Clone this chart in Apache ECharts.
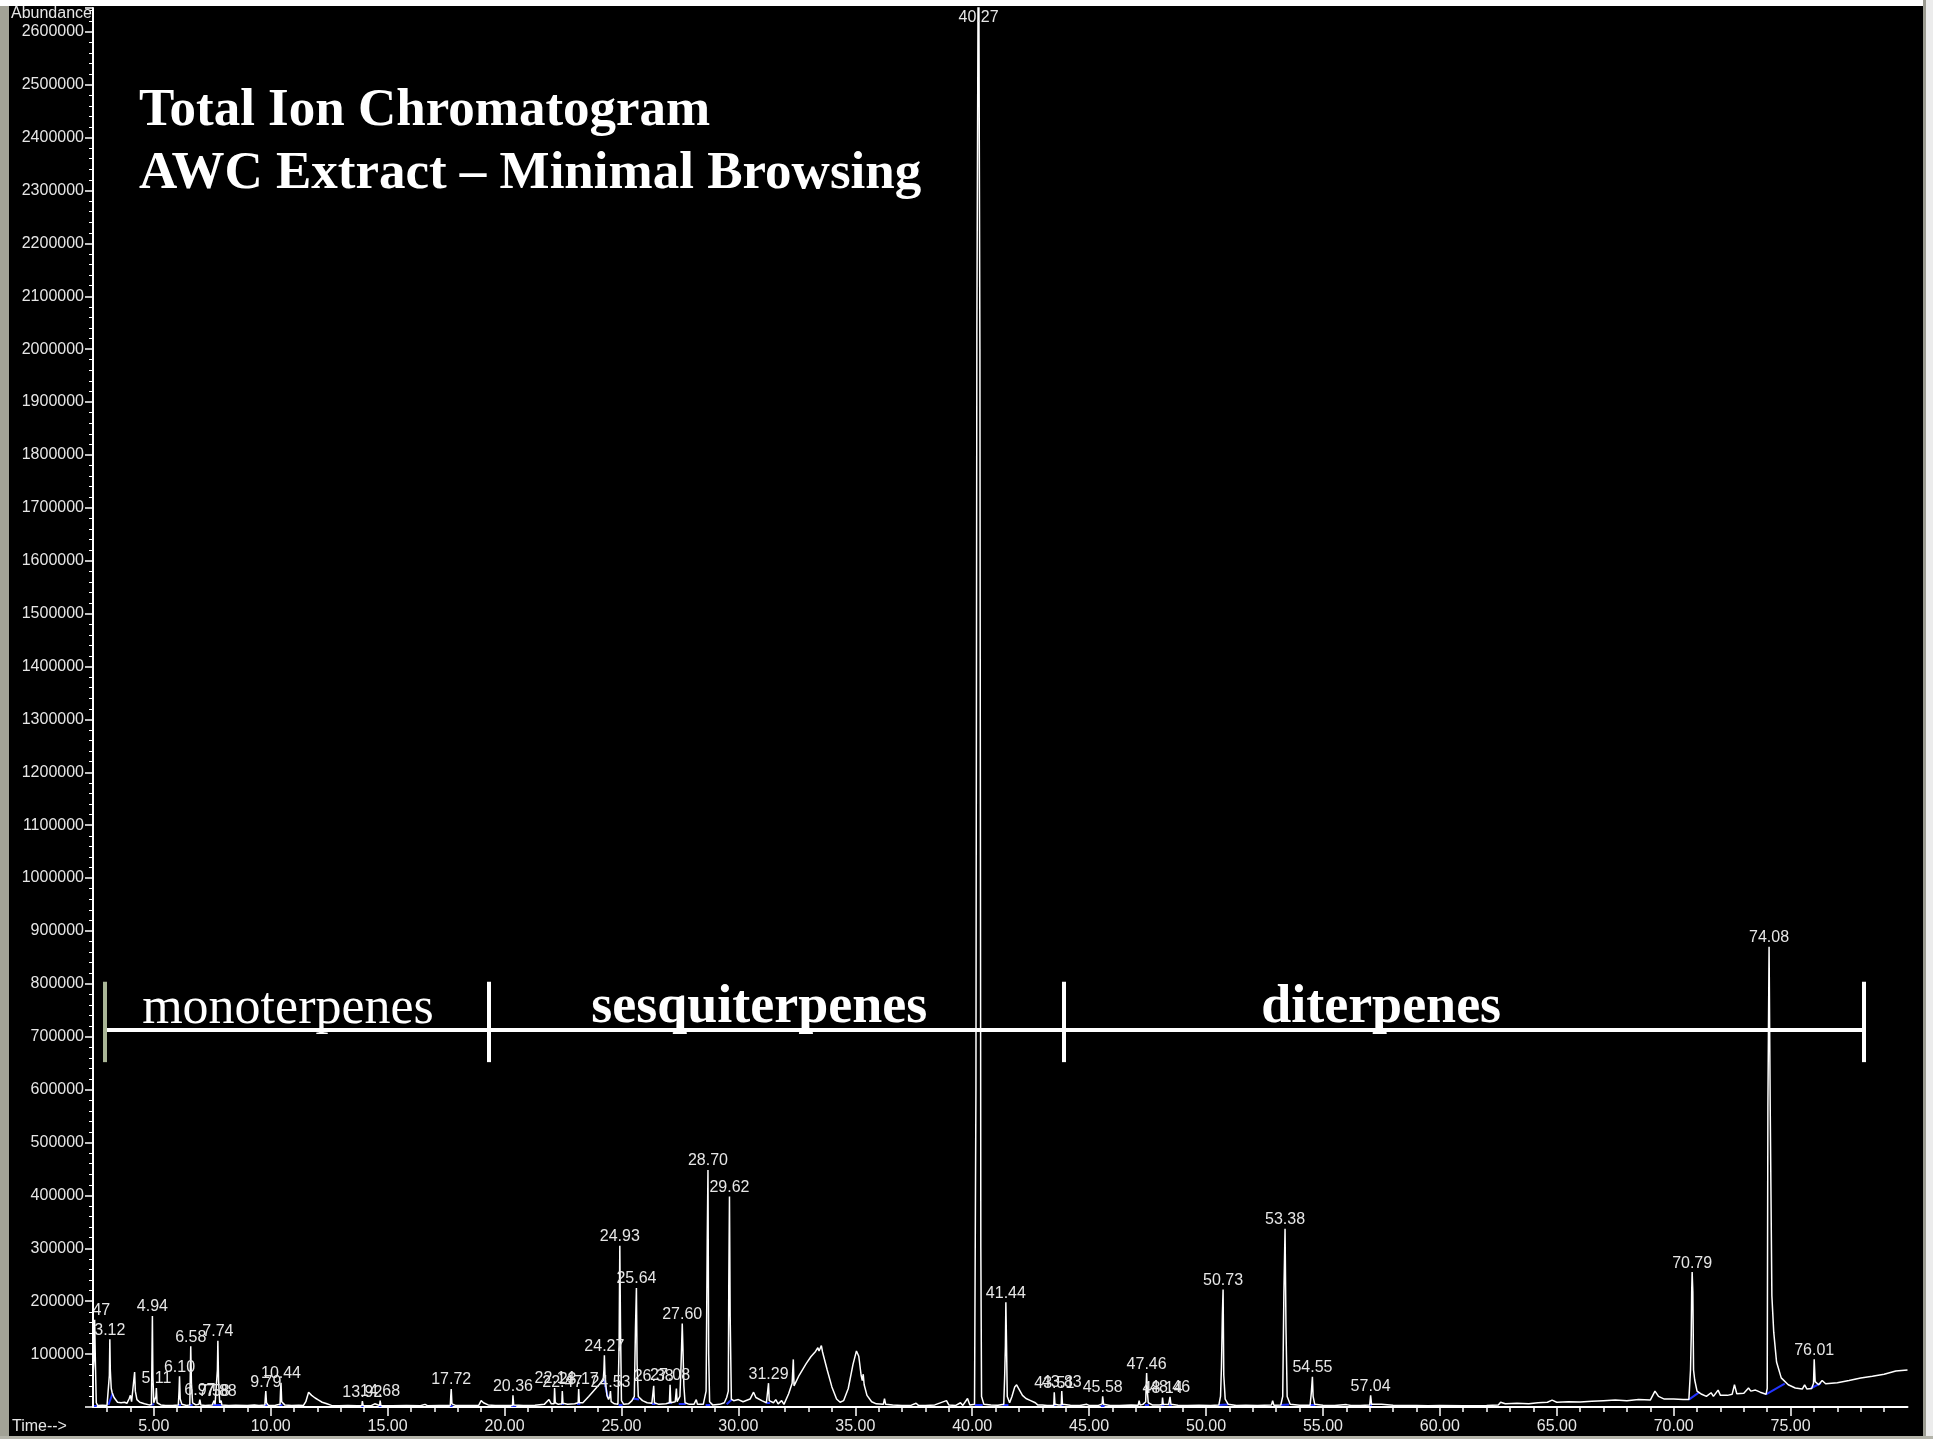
<!DOCTYPE html>
<html>
<head>
<meta charset="utf-8">
<title>Total Ion Chromatogram – AWC Extract</title>
<script src="https://cdn.jsdelivr.net/npm/echarts/dist/echarts.min.js"></script>
<style>
  html, body { margin: 0; padding: 0; background: #000; }
  #chart { width: 1933px; height: 1439px; }
</style>
</head>
<body>
<div id="chart"></div>
<script>
// Retention time (min) vs. total ion abundance, read as [time, abundance] pairs.
const tracePoints = [
  [2.40, 60000], [2.44, 90000], [2.47, 165000], [2.50, 90000], [2.54, 8000], [2.60, 3000], [2.80, 3500], [3.00, 3000],
  [3.07, 4000], [3.10, 60000], [3.12, 128000], [3.14, 70000], [3.18, 35000], [3.22, 27000], [3.30, 18000], [3.45, 9000],
  [3.60, 8000], [3.75, 9000], [3.85, 7000], [3.95, 16000], [4.00, 22000], [4.05, 10000], [4.12, 9000], [4.18, 66000],
  [4.21, 30000], [4.28, 14000], [4.40, 9000], [4.60, 6000], [4.80, 4000], [4.90, 4500], [4.92, 90000], [4.94, 172000],
  [4.96, 60000], [5.00, 8000], [5.05, 6000], [5.09, 20000], [5.11, 36000], [5.14, 8000], [5.30, 4000], [5.50, 3000],
  [5.80, 3000], [6.05, 4000], [6.08, 30000], [6.10, 58000], [6.13, 15000], [6.20, 5000], [6.40, 3000], [6.54, 4000],
  [6.56, 60000], [6.58, 115000], [6.61, 45000], [6.66, 8000], [6.80, 4000], [6.93, 5000], [6.97, 14000], [7.01, 4000],
  [7.20, 3000], [7.50, 4000], [7.56, 5000], [7.58, 12000], [7.62, 5000], [7.70, 6000], [7.72, 70000], [7.74, 125000],
  [7.77, 50000], [7.82, 8000], [7.86, 6000], [7.88, 12000], [7.91, 4000], [8.20, 3000], [8.50, 3500], [9.00, 3000],
  [9.30, 4000], [9.50, 3000], [9.75, 4000], [9.77, 18000], [9.79, 30000], [9.82, 8000], [9.90, 3000], [10.20, 3500],
  [10.40, 5000], [10.42, 30000], [10.44, 46000], [10.47, 10000], [10.60, 4000], [10.90, 3000], [11.20, 3500], [11.40, 3000],
  [11.50, 10000], [11.62, 28000], [11.75, 22000], [11.90, 17000], [12.05, 13000], [12.20, 9000], [12.40, 6000], [12.60, 3000],
  [12.90, 2500], [13.30, 3000], [13.70, 2500], [13.90, 3000], [13.92, 11000], [13.95, 3000], [14.30, 2500], [14.45, 6000],
  [14.50, 2500], [14.66, 3000], [14.68, 12000], [14.71, 3000], [15.20, 2500], [15.80, 3000], [16.40, 2500], [16.60, 5000],
  [16.70, 2500], [17.20, 3000], [17.68, 3000], [17.70, 20000], [17.72, 34000], [17.75, 6000], [17.90, 3000], [18.50, 3000],
  [18.90, 3500], [19.00, 12000], [19.10, 8000], [19.30, 4000], [19.60, 3000], [20.00, 3000], [20.34, 3000], [20.36, 22000],
  [20.39, 4000], [20.80, 3000], [21.30, 3500], [21.70, 5000], [21.90, 14000], [22.00, 6000], [22.12, 6000], [22.14, 36000],
  [22.17, 8000], [22.30, 5000], [22.45, 6000], [22.47, 30000], [22.50, 7000], [22.70, 5000], [23.00, 6000], [23.15, 8000],
  [23.17, 34000], [23.20, 8000], [23.35, 8000], [23.60, 20000], [23.90, 35000], [24.10, 45000], [24.22, 50000], [24.25, 70000],
  [24.27, 98000], [24.30, 55000], [24.38, 22000], [24.45, 14000], [24.50, 20000], [24.53, 30000], [24.56, 10000], [24.70, 6000],
  [24.85, 5000], [24.90, 120000], [24.93, 305000], [24.96, 150000], [25.00, 12000], [25.10, 5000], [25.30, 6000], [25.45, 12000],
  [25.55, 20000], [25.60, 150000], [25.64, 225000], [25.67, 80000], [25.72, 20000], [25.90, 12000], [26.10, 8000], [26.30, 7000],
  [26.36, 8000], [26.38, 40000], [26.41, 8000], [26.60, 5000], [26.90, 6000], [27.05, 8000], [27.08, 42000], [27.11, 8000],
  [27.30, 10000], [27.35, 35000], [27.38, 10000], [27.50, 20000], [27.55, 80000], [27.60, 158000], [27.63, 110000], [27.67, 40000],
  [27.72, 8000], [27.90, 5000], [28.10, 5000], [28.20, 14000], [28.25, 5000], [28.50, 5000], [28.62, 30000], [28.67, 320000],
  [28.70, 448000], [28.73, 100000], [28.77, 10000], [28.90, 4000], [29.20, 5000], [29.40, 8000], [29.50, 18000], [29.57, 30000],
  [29.59, 230000], [29.62, 398000], [29.65, 170000], [29.70, 15000], [29.80, 12000], [30.00, 14000], [30.20, 10000], [30.50, 15000],
  [30.65, 28000], [30.75, 18000], [31.00, 12000], [31.20, 8000], [31.27, 10000], [31.29, 45000], [31.32, 12000], [31.50, 8000],
  [31.60, 14000], [31.70, 6000], [31.85, 12000], [31.95, 5000], [32.15, 25000], [32.30, 45000], [32.35, 90000], [32.38, 40000],
  [32.60, 60000], [32.90, 82000], [33.10, 95000], [33.30, 105000], [33.40, 112000], [33.45, 106000], [33.55, 116000], [33.60, 104000],
  [33.80, 70000], [34.00, 38000], [34.20, 15000], [34.35, 9000], [34.50, 12000], [34.70, 35000], [34.90, 80000], [35.05, 106000],
  [35.15, 96000], [35.25, 60000], [35.30, 50000], [35.34, 62000], [35.38, 42000], [35.50, 22000], [35.70, 10000], [35.90, 6000],
  [36.20, 5000], [36.25, 16000], [36.30, 5000], [36.60, 4000], [37.00, 3000], [37.40, 3500], [37.60, 7000], [37.70, 3000],
  [38.00, 3000], [38.40, 4000], [38.90, 12000], [39.00, 4000], [39.30, 3000], [39.50, 8000], [39.60, 3000], [39.80, 16000],
  [39.90, 4000], [40.10, 5000], [40.16, 600000], [40.20, 2030000], [40.27, 2900000], [40.33, 2000000], [40.37, 300000], [40.40, 20000],
  [40.50, 5000], [40.80, 4000], [41.10, 3500], [41.35, 5000], [41.39, 60000], [41.42, 115000], [41.44, 198000], [41.47, 115000],
  [41.50, 20000], [41.60, 8000], [41.70, 20000], [41.82, 38000], [41.90, 42000], [42.00, 34000], [42.15, 22000], [42.30, 16000],
  [42.50, 12000], [42.70, 8000], [42.80, 4000], [43.00, 4000], [43.20, 3000], [43.49, 3500], [43.51, 28000], [43.54, 5000],
  [43.70, 4000], [43.81, 4000], [43.83, 30000], [43.86, 5000], [44.20, 3500], [44.60, 3000], [44.90, 5000], [45.00, 3000],
  [45.40, 3000], [45.56, 6000], [45.58, 20000], [45.62, 5000], [45.90, 3000], [46.30, 3000], [46.80, 4000], [47.10, 3500],
  [47.14, 12000], [47.18, 3500], [47.30, 5000], [47.42, 10000], [47.44, 40000], [47.46, 64000], [47.49, 30000], [47.53, 8000],
  [47.70, 4000], [48.00, 4000], [48.12, 4500], [48.14, 18000], [48.17, 5000], [48.40, 4500], [48.46, 19000], [48.50, 5000],
  [48.80, 3500], [49.20, 3000], [49.70, 3500], [50.20, 3000], [50.55, 4000], [50.62, 20000], [50.66, 75000], [50.70, 176000],
  [50.73, 222000], [50.76, 60000], [50.82, 15000], [50.95, 5000], [51.30, 3000], [51.70, 3500], [52.20, 3000], [52.80, 4000],
  [52.85, 12000], [52.90, 3500], [53.20, 4000], [53.28, 20000], [53.33, 215000], [53.38, 337000], [53.42, 150000], [53.47, 20000],
  [53.60, 5000], [54.00, 3500], [54.45, 3500], [54.50, 25000], [54.55, 57000], [54.58, 20000], [54.65, 5000], [55.00, 3500],
  [55.50, 3000], [56.00, 4500], [56.20, 3000], [56.60, 3000], [57.00, 4000], [57.04, 22000], [57.08, 5000], [57.50, 5000],
  [58.00, 3500], [58.50, 3000], [59.00, 3000], [59.50, 2500], [60.00, 3000], [61.00, 2500], [62.00, 3000], [62.50, 4000],
  [62.60, 9000], [62.80, 6000], [63.30, 7000], [63.80, 6000], [64.20, 8000], [64.60, 9000], [64.80, 13000], [65.00, 9000],
  [65.50, 10000], [66.00, 9500], [66.50, 11000], [67.00, 12000], [67.50, 13000], [68.00, 12000], [68.50, 14000], [69.00, 13000],
  [69.20, 30000], [69.35, 20000], [69.60, 15000], [70.00, 15000], [70.40, 14000], [70.65, 14000], [70.72, 70000], [70.75, 132000],
  [70.77, 218000], [70.79, 255000], [70.82, 218000], [70.85, 70000], [70.90, 51000], [71.00, 30000], [71.20, 24000], [71.40, 20000],
  [71.60, 27000], [71.70, 20000], [71.90, 32000], [72.00, 22000], [72.30, 22000], [72.50, 24000], [72.60, 42000], [72.70, 25000],
  [73.00, 26000], [73.20, 36000], [73.30, 30000], [73.50, 32000], [73.70, 28000], [73.95, 24000], [74.00, 35000], [74.03, 570000],
  [74.08, 870000], [74.13, 560000], [74.20, 210000], [74.28, 141000], [74.40, 85000], [74.60, 55000], [74.90, 42000], [75.20, 36000],
  [75.50, 34000], [75.60, 42000], [75.70, 34000], [75.90, 35000], [75.98, 45000], [76.01, 90000], [76.05, 48000], [76.20, 42000],
  [76.35, 50000], [76.50, 44000], [77.00, 46000], [77.50, 50000], [78.00, 55000], [78.50, 58000], [79.00, 62000], [79.50, 68000],
  [80.00, 70000]
];

// Retention times printed above integrated peaks.
const labelledPeaks = [
  '2.47', '3.12', '4.94', '5.11', '6.10', '6.58', '6.97', '7.58', '7.74', '7.88', '9.79', '10.44', '13.92', '14.68',
  '17.72', '20.36', '22.14', '22.47', '23.17', '24.27', '24.53', '24.93', '25.64', '26.38', '27.08', '27.60', '28.70',
  '29.62', '31.29', '40.27', '41.44', '43.51', '43.83', '45.58', '47.46', '48.14', '48.46', '50.73', '53.38', '54.55',
  '57.04', '70.79', '74.08', '76.01'
];

// Integration baselines: [startTime, startAbundance, endTime, endAbundance].
const integrationMarks = [
  [2.42, 3000, 2.56, 3000], [3.06, 4000, 3.24, 26000], [4.86, 4000, 5.02, 5000], [6.05, 4000, 6.16, 4000],
  [6.52, 4000, 6.66, 4000], [7.52, 4000, 7.92, 4000], [9.72, 3500, 9.86, 3500], [10.36, 4000, 10.50, 4000],
  [13.86, 3000, 13.98, 3000], [14.62, 3000, 14.74, 3000], [17.66, 3000, 17.78, 3000], [20.28, 3000, 20.50, 3000],
  [22.42, 6000, 22.54, 6000], [23.10, 7000, 23.24, 7000], [24.25, 52000, 24.42, 18000], [24.88, 5000, 25.05, 5000],
  [25.48, 16000, 25.75, 14000], [26.30, 7000, 26.46, 7000], [27.00, 8000, 27.14, 8000], [27.45, 6000, 27.75, 6000],
  [28.60, 5000, 28.80, 5000], [29.50, 5000, 29.72, 14000], [31.20, 8000, 31.36, 8000], [40.10, 4000, 40.45, 4000],
  [41.30, 4000, 41.55, 4000], [43.45, 3500, 43.57, 3500], [43.77, 4000, 43.90, 4000], [45.50, 3000, 45.66, 3000],
  [47.38, 4000, 47.56, 4000], [48.08, 4500, 48.22, 4500], [48.40, 4500, 48.54, 4500], [50.55, 4000, 50.95, 4500],
  [53.20, 4000, 53.55, 4500], [54.42, 3500, 54.68, 3500], [56.98, 4000, 57.10, 4000], [70.65, 14000, 71.10, 28000],
  [73.95, 24000, 74.75, 44000], [75.85, 35000, 76.30, 45000]
];

// Axis ticks
const timeTicks = [5, 10, 15, 20, 25, 30, 35, 40, 45, 50, 55, 60, 65, 70, 75];
const minuteTicks = [3, 4, 6, 7, 8, 9, 11, 12, 13, 14, 16, 17, 18, 19, 21, 22, 23, 24, 26, 27, 28, 29, 31, 32, 33, 34,
  36, 37, 38, 39, 41, 42, 43, 44, 46, 47, 48, 49, 51, 52, 53, 54, 56, 57, 58, 59, 61, 62, 63, 64, 66, 67, 68, 69,
  71, 72, 73, 74, 76, 77, 78, 79];
const abundanceTicks = [100000, 200000, 300000, 400000, 500000, 600000, 700000, 800000, 900000, 1000000, 1100000,
  1200000, 1300000, 1400000, 1500000, 1600000, 1700000, 1800000, 1900000, 2000000, 2100000, 2200000, 2300000,
  2400000, 2500000, 2600000];

// Compound-class brackets
const classNames = ['monoterpenes', 'sesquiterpenes', 'diterpenes'];
const classLabelTimes = [10.74, 30.89, 57.49];
const classBounds = [2.92, 19.33, 43.91, 78.11];
const bracketLevel = 713000;
const bracketTickLow = 652000;
const bracketTickHigh = 804000;

const TIME_MIN = 2.40, TIME_MAX = 80.00, ABUND_MAX = 2645000, LABEL_CEILING = 2610000;
const TEXT = '#e6e6e6';
const UI_FONT = 'Liberation Sans';

const apexOf = t => {
  const p = tracePoints.find(q => q[0] === Number(t));
  return p ? p[1] : 0;
};

const peakLabelData = labelledPeaks.map(t => ({
  name: t,
  value: [Number(t), Math.min(apexOf(t), LABEL_CEILING)]
}));

const bracketData = [
  { coords: [[classBounds[0], bracketLevel], [classBounds[3], bracketLevel]] }
].concat(classBounds.map((t, i) => ({
  coords: [[t, bracketTickLow], [t, bracketTickHigh]],
  lineStyle: { color: i === 0 ? '#a9b596' : '#ffffff' }
})));

const classLabelData = classNames.map((n, i) => ({
  name: n,
  value: [classLabelTimes[i], bracketLevel],
  label: {
    fontWeight: i === 0 ? 'normal' : 'bold',
    fontSize: i === 0 ? 52 : 54
  }
}));

const chart = echarts.init(document.getElementById('chart'), null, { width: 1933, height: 1439 });

chart.setOption({
  animation: false,
  backgroundColor: '#000000',
  title: {
    text: 'Total Ion Chromatogram\nAWC Extract – Minimal Browsing',
    left: 139,
    top: 80,
    padding: 0,
    textStyle: {
      color: '#ffffff',
      fontFamily: 'Liberation Serif',
      fontWeight: 'bold',
      fontSize: 53,
      lineHeight: 63
    }
  },
  grid: { left: 93, right: 25.5, top: 8, bottom: 32, containLabel: false },
  xAxis: [
    {
      type: 'value', min: TIME_MIN, max: TIME_MAX, position: 'bottom',
      axisLine: { show: true, onZero: false, lineStyle: { color: '#ffffff', width: 2 } },
      axisTick: { show: true, customValues: timeTicks, length: 9, lineStyle: { color: '#ffffff', width: 1.5 } },
      axisLabel: {
        customValues: timeTicks, margin: 12, color: TEXT, fontFamily: UI_FONT, fontSize: 16,
        formatter: v => Number(v).toFixed(2)
      },
      splitLine: { show: false }
    },
    {
      type: 'value', min: TIME_MIN, max: TIME_MAX, position: 'bottom',
      axisLine: { show: false },
      axisTick: { show: true, customValues: minuteTicks, length: 5, lineStyle: { color: '#ffffff', width: 1.5 } },
      axisLabel: { show: false },
      splitLine: { show: false }
    }
  ],
  yAxis: {
    type: 'value', min: 0, max: ABUND_MAX, interval: 100000, z: 4,
    axisLine: { show: true, lineStyle: { color: '#ffffff', width: 2 } },
    axisTick: { show: true, length: 8, lineStyle: { color: '#ffffff', width: 1.5 } },
    minorTick: { show: true, splitNumber: 5, length: 4, lineStyle: { color: '#ffffff', width: 1 } },
    axisLabel: {
      margin: 9, color: TEXT, fontFamily: UI_FONT, fontSize: 16,
      formatter: v => (abundanceTicks.indexOf(v) >= 0 ? String(v) : '')
    },
    splitLine: { show: false }
  },
  graphic: [
    { type: 'rect', z: 3, shape: { x: 9, y: 1290, width: 83, height: 40 }, style: { fill: '#000000' }, silent: true },
    { type: 'rect', z: 10, shape: { x: 0, y: 0, width: 9, height: 1439 }, style: { fill: '#a2a296' }, silent: true },
    { type: 'rect', z: 10, shape: { x: 0, y: 0, width: 1933, height: 6 }, style: { fill: '#ffffff' }, silent: true },
    { type: 'rect', z: 10, shape: { x: 1923, y: 0, width: 3, height: 1439 }, style: { fill: '#9c9c92' }, silent: true },
    { type: 'rect', z: 10, shape: { x: 1926, y: 0, width: 7, height: 1439 }, style: { fill: '#ececec' }, silent: true },
    { type: 'rect', z: 10, shape: { x: 0, y: 1436, width: 1933, height: 3 }, style: { fill: '#b4b4aa' }, silent: true },
    {
      type: 'text', z: 11, x: 11, y: 14,
      style: { text: 'Abundance', fill: TEXT, font: '16px "Liberation Sans"', textVerticalAlign: 'middle', textAlign: 'left' }
    },
    {
      type: 'text', z: 11, x: 12, y: 1427,
      style: { text: 'Time-->', fill: TEXT, font: '16px "Liberation Sans"', textVerticalAlign: 'middle', textAlign: 'left' }
    }
  ],
  series: [
    {
      name: 'TIC',
      type: 'line',
      data: tracePoints,
      showSymbol: false,
      symbol: 'none',
      clip: true,
      z: 2,
      lineStyle: { color: '#ffffff', width: 1.5 },
      silent: true
    },
    {
      name: 'integration',
      type: 'lines',
      coordinateSystem: 'cartesian2d',
      data: integrationMarks.map(m => ({ coords: [[m[0], m[1]], [m[2], m[3]]] })),
      lineStyle: { color: '#2233ff', width: 2, opacity: 1 },
      z: 2,
      silent: true
    },
    {
      name: 'peak labels',
      type: 'scatter',
      data: peakLabelData,
      symbolSize: 0,
      itemStyle: { opacity: 1 },
      z: 2,
      silent: true,
      label: {
        show: true, position: 'top', distance: 1,
        formatter: '{b}', color: TEXT, fontFamily: UI_FONT, fontSize: 16
      }
    },
    {
      name: 'class brackets',
      type: 'lines',
      coordinateSystem: 'cartesian2d',
      data: bracketData,
      lineStyle: { color: '#ffffff', width: 4, opacity: 1 },
      z: 5,
      silent: true
    },
    {
      name: 'class names',
      type: 'scatter',
      data: classLabelData,
      symbolSize: 0,
      itemStyle: { opacity: 1 },
      z: 5,
      silent: true,
      label: {
        show: true, position: 'top', distance: 0, offset: [0, 5],
        formatter: '{b}', color: '#ffffff', fontFamily: 'Liberation Serif'
      }
    }
  ]
});
</script>
</body>
</html>
